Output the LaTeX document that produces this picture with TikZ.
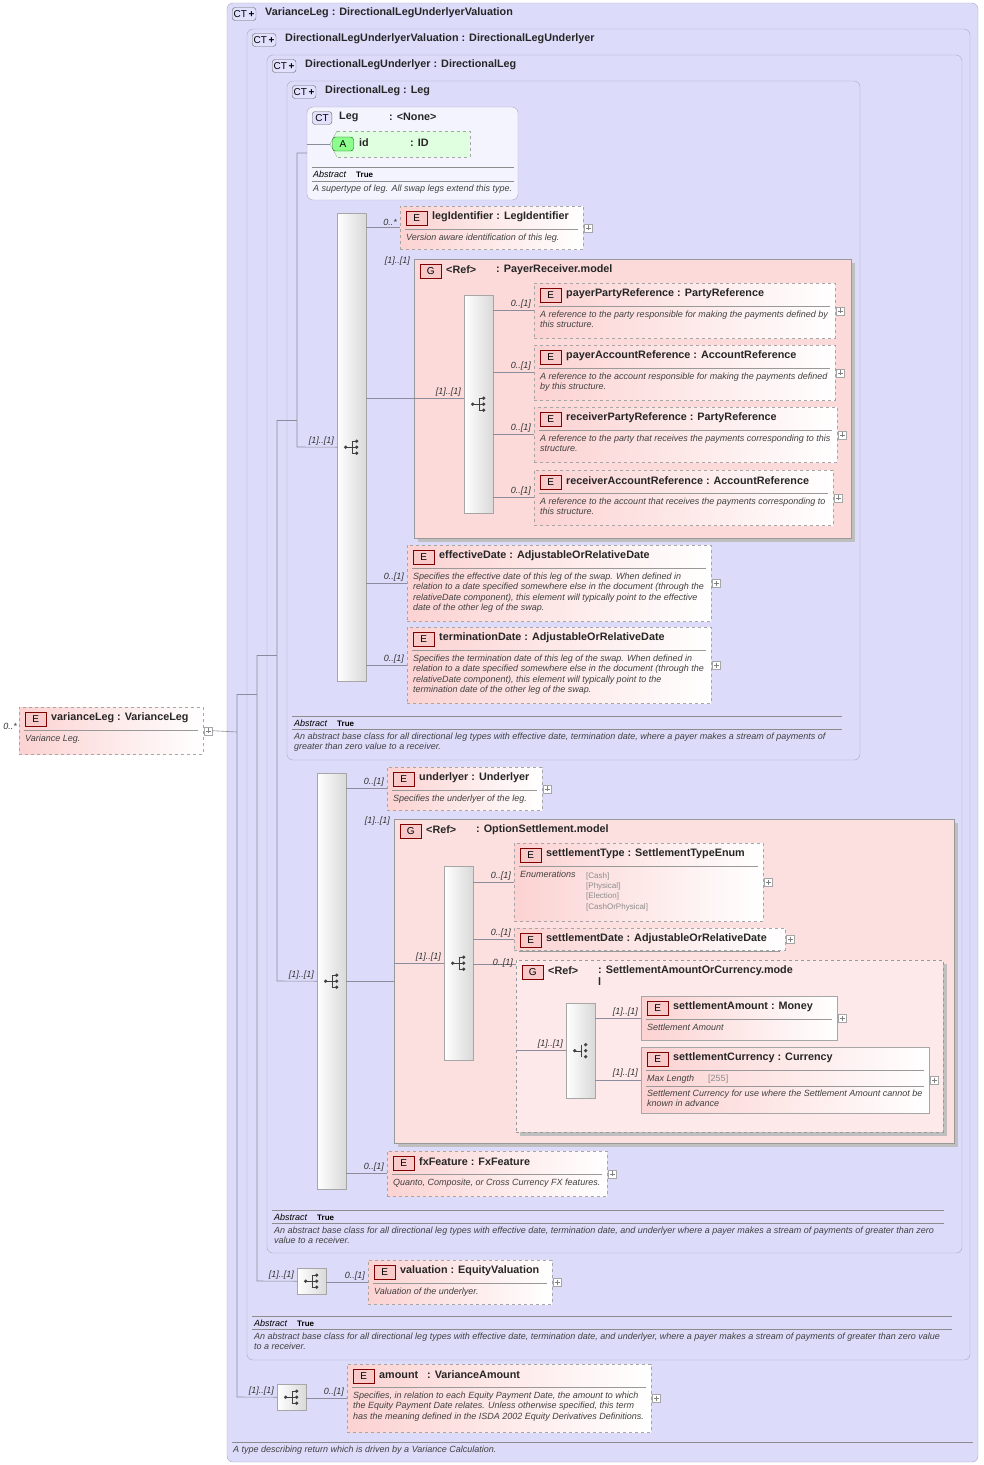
\documentclass[tikz,border=0pt]{standalone}
\usepackage{fontspec}
\setmainfont{Liberation Sans}
\usetikzlibrary{positioning,calc}

\definecolor{ctfill}{HTML}{DCDCFA}
\definecolor{ctline}{HTML}{A8A8C0}
\definecolor{efill}{HTML}{FCD2D2}
\definecolor{gfill}{HTML}{FCDADA}
\definecolor{tagred}{HTML}{F4A6A6}
\definecolor{conn}{HTML}{8C8C9C}

\tikzset{
  ctbox/.style={draw=ctline, fill=ctfill, rounded corners=6pt},
  cttag/.style={draw=black!60, fill=ctfill!70!blue!30, rounded corners=3pt, inner sep=1.5pt,
    font=\fontsize{10}{11}\selectfont, minimum height=13pt},
  ttl/.style={font=\fontsize{10.8}{12}\selectfont\bfseries, text=black!85, inner sep=0pt, align=left},
  ebox/.style={draw=black!35, dashed, left color=efill, right color=white, inner sep=0pt},
  mbox/.style={ebox, solid},
  gbox/.style={draw=black!40, fill=gfill, inner sep=0pt},
  etag/.style={draw=red!50!black, fill=tagred!60, inner sep=1.5pt, minimum width=21pt,
    minimum height=14pt, font=\fontsize{10}{11}\selectfont},
  edesc/.style={font=\fontsize{9}{10.2}\selectfont\itshape, text=black!75, inner sep=0pt, align=left},
  mult/.style={font=\fontsize{9}{10}\selectfont\itshape, text=black!80, inner sep=0pt},
  plusbox/.style={draw=black!35, fill=white, minimum size=8pt, inner sep=0pt},
  bar/.style={draw=black!35, left color=white, right color=black!15, inner sep=0pt},
  wire/.style={draw=conn, line width=0.6pt},
}

% named element box: name, x, y, w, h, title, desc
\newcommand\elem[8][ebox]{%
  \node[#1, minimum width=#5pt, minimum height=#6pt, anchor=north west] (#2) at (#3,#4) {};
  \node[etag, anchor=west] at ($(#2.north west)+(6,12)$) {E};
  \node[ttl, anchor=west] at ($(#2.north west)+(32,11)$) {#7};
  \draw[black!40] ($(#2.north west)+(5,23)$) -- ($(#2.north east)+(-5,23)$);
  \node[edesc, anchor=north west] at ($(#2.north west)+(6,28)$) {#8};
  \node[plusbox] at ($(#2.east)+(5,0)$) {};
  \draw[black!50] ($(#2.east)+(2.5,0)$) -- ++(5,0) ($(#2.east)+(5,-2.5)$) -- ++(0,5);
}
% complex type frame: x1, y1, x2, y2, title
\newcommand\ctype[5]{%
  \draw[ctbox] (#1,#2) rectangle (#3,#4);
  \node[cttag, anchor=west] at (#1+5,#2+11) {CT\,\textbf{+}};
  \node[ttl, anchor=west] at (#1+38,#2+10) {#5};
}
% abstract footer: x1, x2, y, description
\newcommand\abst[4]{%
  \draw[black!45] (#1,#3) -- (#2,#3);
  \node[edesc, anchor=west, text=black] at (#1+2,#3+7) {Abstract\hspace{10pt}\upshape\bfseries\fontsize{8}{9}\selectfont True};
  \draw[black!45] (#1,#3+13) -- (#2,#3+13);
  \node[edesc, anchor=north west] at (#1+2,#3+17) {#4};
}
% sequence icon
\newcommand\seqicon[1]{%
  \fill[black!75] ($(#1)+(-6,0)$) circle (1.8pt) ($(#1)+(5,-6)$) circle (1.8pt)
    ($(#1)+(5,0)$) circle (1.8pt) ($(#1)+(5,6)$) circle (1.8pt);
  \draw[black!75] ($(#1)+(-6,0)$) -- ++(6,0) ($(#1)+(0,-6)$) -- ++(0,12)
    ($(#1)+(0,-6)$) -- ++(5,0) ($(#1)+(0,6)$) -- ++(5,0) ($(#1)+(0,0)$) -- ++(5,0);
}
% group box: name, x, y, w, h, type, style
\newcommand\grp[7]{%
  \fill[black!25] (#2+4,#3+4) rectangle (#2+#4+4,#3+#5+4);
  \node[gbox, #7, minimum width=#4pt, minimum height=#5pt, anchor=north west] (#1) at (#2,#3) {};
  \node[etag, anchor=west] at ($(#1.north west)+(6,12)$) {G};
  \node[ttl, anchor=west] at ($(#1.north west)+(32,11)$) {<Ref>};
  \node[ttl, anchor=north west] at ($(#1.north west)+(82,5)$) {#6};
}
% connector with multiplicity label
\newcommand\link[3]{%
  \draw[wire] (#1.east |- #2.west) -- (#2.west);
  \node[mult, anchor=south east] at ($(#2.west)+(-3,-2)$) {#3};
}

\begin{document}
\begin{tikzpicture}[x=1pt,y=-1pt]
\useasboundingbox[fill=white] (0,0) rectangle (984,1465);

% nested complex types
\ctype{227}{3}{978}{1462}{VarianceLeg : DirectionalLegUnderlyerValuation}
\ctype{247}{29}{970}{1360}{DirectionalLegUnderlyerValuation : DirectionalLegUnderlyer}
\ctype{267}{55}{962}{1253}{DirectionalLegUnderlyer : DirectionalLeg}
\ctype{287}{81}{860}{760}{DirectionalLeg : Leg}

% Leg
\draw[ctbox, fill=ctfill!30] (307,107) rectangle (518,200);
\node[cttag, anchor=west] (legtag) at (312,118) {\,CT\,};
\node[ttl, anchor=west] at (339,117) {Leg};
\node[ttl, anchor=west] at (389,117) {: <None>};
\fill[green!12] (330,144) -- (337,131) -- (470,131) -- (470,157) -- (337,157) -- cycle;
\draw[black!35, dashed] (337,131) -- (470,131) -- (470,157) -- (337,157);
\draw[black!35] (337,157) -- (330,144) -- (337,131);
\node[etag, draw=green!40!black, fill=green!45, rounded corners=3pt] (att) at (343,144) {A};
\node[ttl, anchor=west] at (359,143) {id};
\node[ttl, anchor=west] at (410,143) {: ID};
\draw[black!45] (312,167) -- (514,167);
\node[edesc, anchor=west, text=black] at (313,174) {Abstract\hspace{10pt}\upshape\bfseries\fontsize{8}{9}\selectfont True};
\draw[black!45] (312,181) -- (514,181);
\node[edesc, anchor=west] at (313,189) {A supertype of leg. All swap legs extend this type.};

% first sequence
\node[bar, minimum width=29pt, minimum height=468pt, anchor=north west] (seqA) at (337,213) {};
\seqicon{seqA.center}
\elem{legid}{400}{206}{183}{43}{legIdentifier : LegIdentifier}{Version aware identification of this leg.}
\link{seqA}{legid}{0..*}

\grp{payrec}{414}{259}{437}{279}{: PayerReceiver.model}{solid}
\draw[wire] (seqA.east |- payrec.west) -- (payrec.west);
\node[mult, anchor=south east] at (410,266) {[1]..[1]};
\node[bar, minimum width=29pt, minimum height=218pt, anchor=north west] (seqB) at (464,295) {};
\seqicon{seqB.center}
\draw[wire] (payrec.west) -- (seqB.west |- payrec.west);
\node[mult, anchor=south east] at ($(seqB.west |- payrec.west)+(-3,-2)$) {[1]..[1]};
\elem{payparty}{534}{283}{301}{55}{payerPartyReference : PartyReference}{A reference to the party responsible for making the payments defined by\\this structure.}
\elem{payacc}{534}{345}{301}{55}{payerAccountReference : AccountReference}{A reference to the account responsible for making the payments defined\\by this structure.}
\elem{recparty}{534}{407}{303}{55}{receiverPartyReference : PartyReference}{A reference to the party that receives the payments corresponding to this\\structure.}
\elem{recacc}{534}{470}{299}{55}{receiverAccountReference : AccountReference}{A reference to the account that receives the payments corresponding to\\this structure.}
\foreach \c in {payparty,payacc,recparty,recacc} {\link{seqB}{\c}{0..[1]}}

\elem{effdate}{407}{545}{304}{76}{effectiveDate : AdjustableOrRelativeDate}{Specifies the effective date of this leg of the swap. When defined in\\relation to a date specified somewhere else in the document (through the\\relativeDate component), this element will typically point to the effective\\date of the other leg of the swap.}
\elem{termdate}{407}{627}{304}{76}{terminationDate : AdjustableOrRelativeDate}{Specifies the termination date of this leg of the swap. When defined in\\relation to a date specified somewhere else in the document (through the\\relativeDate component), this element will typically point to the\\termination date of the other leg of the swap.}
\link{seqA}{effdate}{0..[1]}
\link{seqA}{termdate}{0..[1]}
\abst{292}{842}{716}{An abstract base class for all directional leg types with effective date, termination date, where a payer makes a stream of payments of\\greater than zero value to a receiver.}

% second sequence
\node[bar, minimum width=29pt, minimum height=416pt, anchor=north west] (seqC) at (317,773) {};
\seqicon{seqC.center}
\elem{underlyer}{387}{767}{155}{43}{underlyer : Underlyer}{Specifies the underlyer of the leg.}
\link{seqC}{underlyer}{0..[1]}
\grp{optset}{394}{819}{560}{324}{: OptionSettlement.model}{solid, fill=gfill!85}
\draw[wire] (seqC.east |- optset.west) -- (optset.west);
\node[mult, anchor=south east] at (390,826) {[1]..[1]};
\node[bar, minimum width=29pt, minimum height=194pt, anchor=north west] (seqD) at (444,866) {};
\seqicon{seqD.center}
\draw[wire] (optset.west |- seqD.west) -- (seqD.west);
\node[mult, anchor=south east] at ($(seqD.west)+(-3,-2)$) {[1]..[1]};
\elem{settype}{514}{843}{249}{78}{settlementType : SettlementTypeEnum}{Enumerations}
\node[edesc, anchor=north west, font=\fontsize{8}{10.4}\selectfont, text=black!45] at (586,872) {{}[Cash]\\{}[Physical]\\{}[Election]\\{}[CashOrPhysical]};
\elem{setdate}{514}{928}{271}{22}{settlementDate : AdjustableOrRelativeDate}{}
\link{seqD}{settype}{0..[1]}
\link{seqD}{setdate}{0..[1]}
\grp{amtcur}{516}{960}{427}{172}{: SettlementAmountOrCurrency.mode\\l}{dashed, fill=gfill!60}
\draw[wire] (seqD.east |- amtcur.north west) ++(0,4) -- ++(43,0);
\node[mult, anchor=south east] at (513,968) {0..[1]};
\node[bar, minimum width=29pt, minimum height=95pt, anchor=north west] (seqE) at (566,1003) {};
\fill[black!75] ($(seqE.center)+(-6,0)$) circle (1.8pt) ($(seqE.center)+(5,-6)$) circle (1.8pt)
  ($(seqE.center)+(5,0)$) circle (1.8pt) ($(seqE.center)+(5,6)$) circle (1.8pt);
\draw[black!75] ($(seqE.center)+(-6,0)$) -- ++(6,0) ($(seqE.center)+(0,-6)$) -- ++(0,12);
\draw[wire] (amtcur.west |- seqE.west) -- (seqE.west);
\node[mult, anchor=south east] at ($(seqE.west)+(-3,-2)$) {[1]..[1]};
\elem[mbox]{setamt}{641}{996}{196}{44}{settlementAmount : Money}{Settlement Amount}
\elem[mbox]{setcur}{641}{1047}{288}{66}{settlementCurrency : Currency}{Max Length\hspace{14pt}{\upshape\color{black!45}[255]}}
\draw[black!40] (646,1086) -- (924,1086);
\node[edesc, anchor=north west] at (647,1090) {Settlement Currency for use where the Settlement Amount cannot be\\known in advance};
\link{seqE}{setamt}{[1]..[1]}
\draw[wire] (seqE.east |- 0,1080) -- (641,1080);
\node[mult, anchor=south east] at (638,1078) {[1]..[1]};

\elem{fxfeat}{387}{1151}{220}{45}{fxFeature : FxFeature}{Quanto, Composite, or Cross Currency FX features.}
\link{seqC}{fxfeat}{0..[1]}
\abst{272}{944}{1210}{An abstract base class for all directional leg types with effective date, termination date, and underlyer where a payer makes a stream of payments of greater than zero\\value to a receiver.}

% valuation
\node[bar, minimum width=29pt, minimum height=26pt, anchor=north west] (seqF) at (297,1268) {};
\seqicon{seqF.center}
\elem{valuation}{368}{1260}{184}{44}{valuation : EquityValuation}{Valuation of the underlyer.}
\link{seqF}{valuation}{0..[1]}
\abst{252}{952}{1316}{An abstract base class for all directional leg types with effective date, termination date, and underlyer, where a payer makes a stream of payments of greater than zero value\\to a receiver.}

% amount
\node[bar, minimum width=29pt, minimum height=26pt, anchor=north west] (seqG) at (277,1384) {};
\seqicon{seqG.center}
\elem{amount}{347}{1364}{304}{68}{amount\hspace{6pt} : VarianceAmount}{Specifies, in relation to each Equity Payment Date, the amount to which\\the Equity Payment Date relates. Unless otherwise specified, this term\\has the meaning defined in the ISDA 2002 Equity Derivatives Definitions.}
\link{seqG}{amount}{0..[1]}
\draw[black!45] (232,1442) -- (973,1442);
\node[edesc, anchor=west] at (233,1450) {A type describing return which is driven by a Variance Calculation.};

% root element
\elem{root}{19}{707}{184}{47}{varianceLeg : VarianceLeg}{Variance Leg.}
\node[mult, anchor=south east] at (17,730) {0..*};

% tree wiring
\coordinate (j1) at (237,732);
\coordinate (j2) at (257,694);
\coordinate (j3) at (277,655);
\coordinate (j4) at (297,420);
\draw[wire] ($(root.east)+(9,0)$) -- (j1);
\draw[wire] (237,694) -- (237,1397) -- (seqG.west);
\draw[wire] (237,694) -- (j2);
\draw[wire] (257,655) -- (257,1281) -- (seqF.west);
\draw[wire] (257,655) -- (j3);
\draw[wire] (277,420) -- (277,981) -- (seqC.west);
\draw[wire] (277,420) -- (j4);
\draw[wire] (307,153) -- (297,153) -- (297,447) -- (seqA.west);
\draw[wire] (307,144) -- (att.west -| 330,144);
\node[mult, anchor=south east] at ($(seqA.west)+(-3,-2)$) {[1]..[1]};
\node[mult, anchor=south east] at ($(seqC.west)+(-3,-2)$) {[1]..[1]};
\node[mult, anchor=south east] at ($(seqF.west)+(-3,-2)$) {[1]..[1]};
\node[mult, anchor=south east] at ($(seqG.west)+(-3,-2)$) {[1]..[1]};
\end{tikzpicture}
\end{document}
